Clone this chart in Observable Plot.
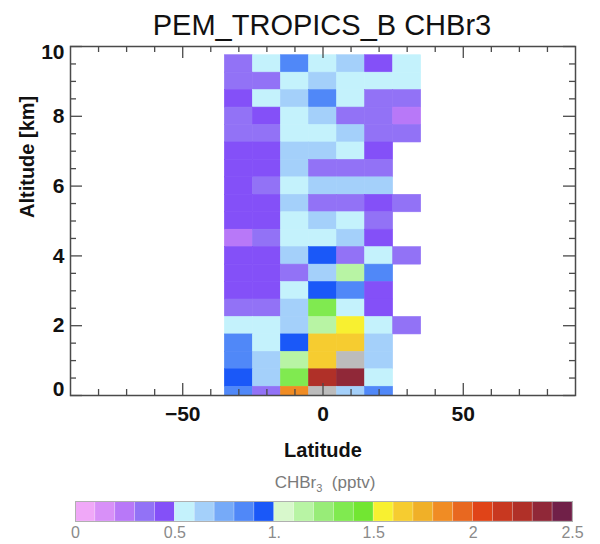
<!DOCTYPE html>
<html>
<head>
<meta charset="utf-8">
<script src="https://cdn.jsdelivr.net/npm/d3@7"></script>
<script src="https://cdn.jsdelivr.net/npm/@observablehq/plot@0.6"></script>
<style>
  html, body { margin: 0; padding: 0; background: #fff; overflow: hidden; }
  #chart { position: relative; width: 600px; height: 544px; font-family: "Liberation Sans", Arial, Helvetica, sans-serif; }
  #chart svg { position: absolute; left: 0; overflow: visible; }
  .title { position: absolute; left: 0; width: 644px; top: 11px; text-align: center; font-size: 29px; line-height: 29px; color: #111; }
  .cbar-label { position: absolute; left: 0; width: 650px; top: 474px; text-align: center; font-size: 17px; line-height: 17px; color: #7a7a7a; }
  .cbar-label sub { font-size: 11px; }
</style>
</head>
<body>
<div id="chart">
  <div class="title">PEM_TROPICS_B CHBr3</div>
  <div class="cbar-label">CHBr<sub>3</sub>&nbsp;&nbsp;(pptv)</div>
</div>
<script>
// Latitude bin centres (deg) and altitude bin centres (km)
const latitudes = [-30, -20, -10, 0, 10, 20, 30];
const altitudes = [9.5, 9.0, 8.5, 8.0, 7.5, 7.0, 6.5, 6.0, 5.5, 5.0,
                   4.5, 4.0, 3.5, 3.0, 2.5, 2.0, 1.5, 1.0, 0.5, 0.0];
const latHalfWidth = 5;      // deg
const altHalfHeight = 0.25;  // km

// Mean CHBr3 (pptv) per altitude row (top to bottom), one value per latitude bin
const chbr3 = [
  [0.36, 0.56, 0.84, 0.55, 0.66, 0.46, 0.54],
  [0.35, 0.37, 0.55, 0.64, 0.56, 0.55, 0.53],
  [0.45, 0.55, 0.66, 0.86, 0.54, 0.36, 0.35],
  [0.36, 0.46, 0.56, 0.65, 0.37, 0.35, 0.26],
  [0.35, 0.36, 0.54, 0.55, 0.64, 0.36, 0.37],
  [0.46, 0.45, 0.65, 0.66, 0.56, 0.45, null],
  [0.45, 0.47, 0.64, 0.36, 0.35, 0.37, null],
  [0.44, 0.36, 0.55, 0.65, 0.66, 0.64, null],
  [0.45, 0.46, 0.65, 0.37, 0.36, 0.45, 0.35],
  [0.46, 0.44, 0.56, 0.64, 0.55, 0.36, null],
  [0.27, 0.35, 0.55, 0.56, 0.65, 0.46, null],
  [0.45, 0.46, 0.66, 0.95, 0.36, 0.55, 0.36],
  [0.44, 0.45, 0.37, 0.65, 1.14, 0.85, null],
  [0.46, 0.45, 0.54, 0.96, 0.84, 0.45, null],
  [0.36, 0.35, 0.65, 1.36, 0.56, 0.46, null],
  [0.55, 0.56, 0.67, 1.15, 1.56, 0.55, 0.36],
  [0.85, 0.55, 0.94, 1.66, 1.67, 0.65, null],
  [0.84, 0.66, 1.16, 1.65, 2.62, 0.64, null],
  [0.95, 0.64, 1.35, 2.26, 2.35, 0.56, null],
  [0.86, 0.36, 1.84, 2.64, 0.67, 0.85, null]
];

// Colour table: 25 steps of 0.1 pptv from 0 to 2.5, grey above the range
const thresholds = [0.1, 0.2, 0.3, 0.4, 0.5, 0.6, 0.7, 0.8, 0.9, 1.0,
                    1.1, 1.2, 1.3, 1.4, 1.5, 1.6, 1.7, 1.8, 1.9, 2.0,
                    2.1, 2.2, 2.3, 2.4, 2.5];
const palette = [
  "#f0a8f8", "#d890f8", "#b878f8", "#9272f6", "#8450f8",
  "#c4f2fc", "#a4d0fa", "#76aaf8", "#5088f8", "#1a58f8",
  "#d8f8cc", "#b8f4a4", "#98ec78", "#80ea50", "#72e632",
  "#f8f030", "#f6cc30", "#f0b028", "#f08c24", "#e86820",
  "#e04418", "#c83820", "#b03028", "#902838", "#702048"
];
const aboveRange = "#bcbcbc";

// Axis ticks
const xMajorTicks = [-50, 0, 50];
const xMinorTicks = [-80, -70, -60, -40, -30, -20, -10, 10, 20, 30, 40, 60, 70, 80];
const yMajorTicks = [0, 2, 4, 6, 8, 10];
const yMinorTicks = [0.5, 1, 1.5, 2.5, 3, 3.5, 4.5, 5, 5.5, 6.5, 7, 7.5, 8.5, 9, 9.5];
const colorbarTicks = [0, 0.5, 1, 1.5, 2, 2.5];
const colorbarTickLabels = ["0", "0.5", "1.", "1.5", "2", "2.5"];

const cells = altitudes.flatMap((alt, i) =>
  latitudes.map((lat, j) => ({lat, alt, value: chbr3[i][j]}))
).filter(d => d.value != null);

const colorScale = {type: "threshold", domain: thresholds, range: [...palette, aboveRange]};

const W = 600, H = 470;
const M = {top: 46, bottom: 75, left: 70, right: 25};
const innerW = W - M.left - M.right;
const innerH = H - M.top - M.bottom;
const axisColor = "#4a4a4a";
const majorLen = 12, minorLen = 6;
const font = "'Liberation Sans', Arial, Helvetica, sans-serif";

const main = Plot.plot({
  width: W, height: H,
  marginTop: M.top, marginBottom: M.bottom, marginLeft: M.left, marginRight: M.right,
  style: {fontFamily: font, background: "transparent", color: "#111", overflow: "visible"},
  x: {domain: [-90, 90]},
  y: {domain: [0, 10]},
  color: colorScale,
  marks: [
    Plot.rect(cells, {
      x1: d => d.lat - latHalfWidth, x2: d => d.lat + latHalfWidth,
      y1: d => d.alt - altHalfHeight, y2: d => d.alt + altHalfHeight,
      fill: "value", stroke: "value", strokeWidth: 0.6, clip: true
    }),
    Plot.frame({stroke: axisColor, strokeWidth: 1.5}),
    // inward ticks on all four sides
    Plot.tickX(xMajorTicks, {x: d => d, insetTop: innerH - majorLen, stroke: axisColor, strokeWidth: 1.3}),
    Plot.tickX(xMajorTicks, {x: d => d, insetBottom: innerH - majorLen, stroke: axisColor, strokeWidth: 1.3}),
    Plot.tickX(xMinorTicks, {x: d => d, insetTop: innerH - minorLen, stroke: axisColor, strokeWidth: 1.3}),
    Plot.tickX(xMinorTicks, {x: d => d, insetBottom: innerH - minorLen, stroke: axisColor, strokeWidth: 1.3}),
    Plot.tickY(yMajorTicks, {y: d => d, insetRight: innerW - majorLen, stroke: axisColor, strokeWidth: 1.3}),
    Plot.tickY(yMajorTicks, {y: d => d, insetLeft: innerW - majorLen, stroke: axisColor, strokeWidth: 1.3}),
    Plot.tickY(yMinorTicks, {y: d => d, insetRight: innerW - minorLen, stroke: axisColor, strokeWidth: 1.3}),
    Plot.tickY(yMinorTicks, {y: d => d, insetLeft: innerW - minorLen, stroke: axisColor, strokeWidth: 1.3}),
    // tick labels
    Plot.axisX({ticks: xMajorTicks, tickSize: 0, tickPadding: 11, fontSize: 21, fontWeight: "bold", label: null}),
    Plot.axisY({ticks: [2, 4, 6, 8], tickSize: 0, tickPadding: 6, fontSize: 21, fontWeight: "bold", label: null}),
    Plot.axisY({ticks: [10], tickSize: 0, tickPadding: 6, dy: 6, fontSize: 21, fontWeight: "bold", label: null}),
    Plot.axisY({ticks: [0], tickSize: 0, tickPadding: 6, dy: -6, fontSize: 21, fontWeight: "bold", label: null}),
    // axis titles
    Plot.text(["Latitude"], {frameAnchor: "bottom", dy: 61, fontSize: 20, fontWeight: "bold", fill: "#111"}),
    Plot.text(["Altitude [km]"], {frameAnchor: "left", dx: -43, dy: -3, rotate: -90, fontSize: 20, fontWeight: "bold", fill: "#111"})
  ]
});
main.style.top = "0px";

// Colour bar
const edges = [0, ...thresholds];
const colorbarBins = edges.slice(0, -1).map((lo, i) => ({lo, hi: edges[i + 1]}));

const bar = Plot.plot({
  width: 600, height: 72,
  marginTop: 31, marginBottom: 21, marginLeft: 75, marginRight: 28,
  style: {fontFamily: font, background: "transparent", color: "#8a8a8a", overflow: "visible"},
  x: {domain: [0, 2.5]},
  y: {domain: [0, 1], axis: null},
  color: colorScale,
  marks: [
    Plot.rect(colorbarBins, {x1: "lo", x2: "hi", y1: 0, y2: 1, fill: d => (d.lo + d.hi) / 2, stroke: "#ffffff", strokeOpacity: 0.25, strokeWidth: 0.8}),
    Plot.frame({stroke: "#b0b0b0", strokeWidth: 1}),
    Plot.axisX({ticks: colorbarTicks, tickSize: 0, tickPadding: 5, fontSize: 16,
      tickFormat: d => colorbarTickLabels[colorbarTicks.indexOf(d)], label: null})
  ]
});
bar.style.top = "470px";

const chart = document.getElementById("chart");
chart.appendChild(main);
chart.appendChild(bar);
</script>
</body>
</html>
